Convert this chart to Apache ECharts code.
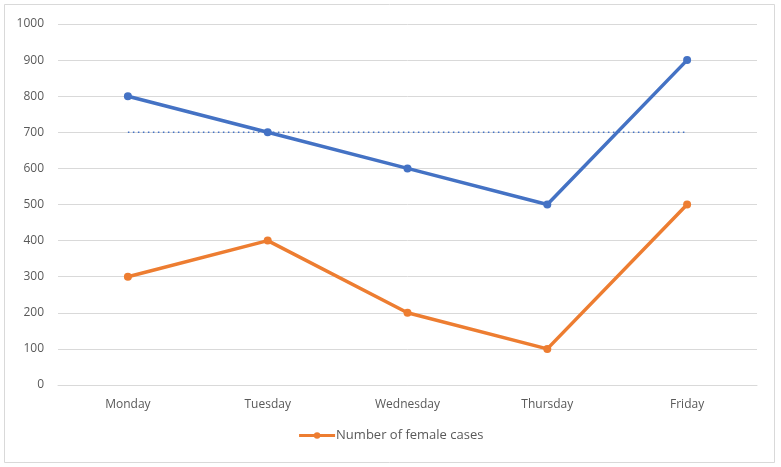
<!DOCTYPE html>
<html><head><meta charset="utf-8">
<script src="https://cdn.jsdelivr.net/npm/echarts@6/dist/echarts.min.js"></script>
<style>html,body{margin:0;padding:0;background:#fff}#c{width:781px;height:467px}</style>
</head><body><div id="c"></div>
<script>
const categories = ['Monday','Tuesday','Wednesday','Thursday','Friday'];
const totalCases = [800,700,600,500,900];
const femaleCases = [300,400,200,100,500];
const averageLine = [700,700,700,700,700];
const yTicks = {min:0,max:1000,interval:100};

const chart = echarts.init(document.getElementById('c'));
chart.setOption({
  animation:false,
  backgroundColor:'#fff',
  graphic:[{type:'rect',shape:{x:4.5,y:4.5,width:770,height:458},style:{fill:'none',stroke:'#d9d9d9',lineWidth:1}}],
  grid:{left:58,right:24,top:24,bottom:82},
  legend:{bottom:20,left:'center',data:['Number of female cases'],itemWidth:36,itemHeight:8,itemGap:4,
    lineStyle:{width:3},
    textStyle:{color:'#595959',fontSize:13,fontFamily:'Open Sans',padding:[0,0,0,-4]}},
  xAxis:{type:'category',data:categories,boundaryGap:true,
    axisLine:{lineStyle:{color:'#d9d9d9'}},axisTick:{show:false},
    axisLabel:{color:'#595959',fontSize:12,margin:14,fontFamily:'Open Sans'}},
  yAxis:{type:'value',min:yTicks.min,max:yTicks.max,interval:yTicks.interval,
    axisLine:{show:false},axisTick:{show:false},
    splitLine:{lineStyle:{color:'#d9d9d9'}},
    axisLabel:{color:'#595959',fontSize:12,margin:14,fontFamily:'Open Sans',formatter:v=>String(v)}},
  series:[
    {name:'Number of cases',type:'line',data:totalCases,symbol:'circle',symbolSize:8,
      lineStyle:{color:'#4472c4',width:3.5},itemStyle:{color:'#4472c4'}},
    {name:'Average',type:'line',data:averageLine,symbol:'none',
      lineStyle:{color:'#4472c4',width:1.5,type:[1.5,3.5]}},
    {name:'Number of female cases',type:'line',data:femaleCases,symbol:'circle',symbolSize:8,
      lineStyle:{color:'#ed7d31',width:3.5},itemStyle:{color:'#ed7d31'}}
  ]
});
</script></body></html>
